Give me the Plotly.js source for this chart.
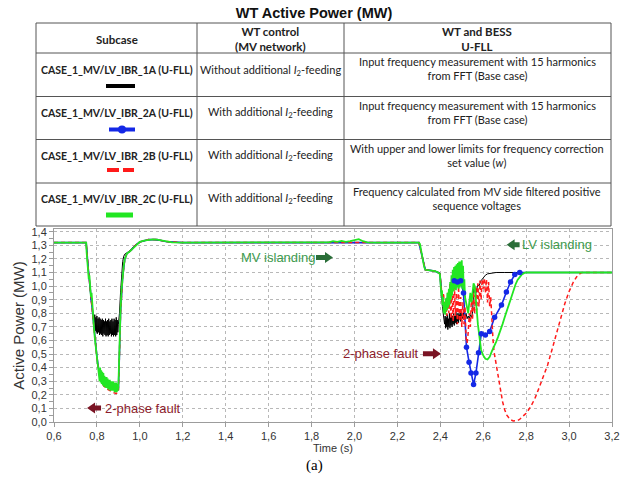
<!DOCTYPE html>
<html>
<head>
<meta charset="utf-8">
<script src="https://cdn.plot.ly/plotly-3.0.1.min.js"></script>
<style>
  html, body { margin: 0; padding: 0; background: #fff; }
  #chart { width: 628px; height: 486px; }
</style>
</head>
<body>
<div id="chart"></div>
<script>
// ---- Table content ----
const subcases = [
  'CASE_1_MV/LV_IBR_1A (U-FLL)',
  'CASE_1_MV/LV_IBR_2A (U-FLL)',
  'CASE_1_MV/LV_IBR_2B (U-FLL)',
  'CASE_1_MV/LV_IBR_2C (U-FLL)'
];
const wtControl = [
  'Without additional <i>I</i><sub>2</sub>-feeding',
  'With additional <i>I</i><sub>2</sub>-feeding',
  'With additional <i>I</i><sub>2</sub>-feeding',
  'With additional <i>I</i><sub>2</sub>-feeding'
];
const bessControl = [
  'Input frequency measurement with 15 harmonics<br>from FFT (Base case)',
  'Input frequency measurement with 15 harmonics<br>from FFT (Base case)',
  'With upper and lower limits for frequency correction<br>set value (<i>w</i>)',
  'Frequency calculated from MV side filtered positive<br>sequence voltages'
];
const headers = ['Subcase', 'WT control<br>(MV network)', 'WT and BESS<br>U-FLL'];

// ---- Active power time series [time (s), P (MW)] ----
const case1A = [
  [0.6,1.32],[0.75,1.32],[0.755,1.22],[0.76,1.12],[0.765,1.02],[0.77,0.93],[0.774,0.88],[0.776,0.91],[0.779,0.84],[0.782,0.80],
  [0.785,0.78],[0.7875,0.68],[0.79,0.79],[0.7925,0.67],[0.795,0.77],[0.7975,0.66],[0.8,0.78],[0.8025,0.65],[0.805,0.76],[0.8075,0.66],
  [0.81,0.77],[0.8125,0.64],[0.815,0.76],[0.8175,0.65],[0.82,0.75],[0.8225,0.64],[0.825,0.76],[0.8275,0.63],[0.83,0.75],[0.8325,0.65],
  [0.835,0.74],[0.8375,0.64],[0.84,0.76],[0.8425,0.63],[0.845,0.74],[0.8475,0.64],[0.85,0.75],[0.8525,0.63],[0.855,0.76],[0.8575,0.64],
  [0.86,0.74],[0.8625,0.65],[0.865,0.75],[0.8675,0.63],[0.87,0.76],[0.8725,0.64],[0.875,0.74],[0.8775,0.63],[0.88,0.76],[0.8825,0.64],
  [0.885,0.75],[0.8875,0.63],[0.89,0.77],[0.8925,0.64],[0.895,0.75],[0.8975,0.66],[0.9,0.72],
  [0.905,0.80],[0.91,0.95],[0.915,1.08],[0.92,1.18],[0.925,1.22],[0.93,1.235],[0.94,1.245],[0.95,1.255],[0.96,1.27],[0.97,1.29],
  [0.98,1.305],[0.99,1.315],[1.0,1.325],[1.02,1.335],[1.04,1.34],[1.06,1.342],[1.08,1.34],[1.1,1.335],[1.12,1.328],[1.15,1.322],[1.2,1.32],
  [2.3,1.32],[2.305,1.30],[2.315,1.22],[2.325,1.14],[2.33,1.12],[2.36,1.115],[2.375,1.11],[2.385,1.105],[2.395,1.10],[2.4,1.09],
  [2.405,0.95],[2.41,0.85],[2.415,0.78],
  [2.42,0.72],[2.4225,0.78],[2.425,0.69],[2.4275,0.77],[2.43,0.70],[2.4325,0.79],[2.435,0.68],[2.4375,0.76],[2.44,0.70],[2.4425,0.80],
  [2.445,0.69],[2.4475,0.77],[2.45,0.71],[2.4525,0.79],[2.455,0.70],[2.4575,0.78],[2.46,0.72],[2.4625,0.80],[2.465,0.71],[2.4675,0.78],
  [2.47,0.73],[2.4725,0.81],[2.475,0.72],[2.4775,0.79],[2.48,0.74],[2.4825,0.80],[2.485,0.73],[2.4875,0.79],[2.49,0.75],[2.4925,0.82],
  [2.495,0.74],[2.5,0.80],[2.505,0.76],[2.51,0.82],[2.515,0.77],[2.52,0.80],[2.525,0.76],[2.53,0.78],[2.535,0.76],[2.54,0.79],
  [2.545,0.77],[2.55,0.80],[2.553,0.92],[2.556,0.98],[2.56,0.96],[2.565,0.94],[2.57,0.98],[2.575,1.01],[2.58,1.0],[2.585,1.03],
  [2.59,1.04],[2.6,1.06],[2.61,1.08],[2.62,1.09],[2.64,1.095],[2.66,1.10],[2.7,1.10],[3.2,1.10]
];

const case2A = [
  [0.6,1.32],[0.75,1.32],[0.76,1.12],[0.77,0.95],[0.78,0.8],[0.79,0.62],[0.8,0.48],[0.81,0.37],[0.82,0.31],[0.84,0.27],
  [0.86,0.25],[0.88,0.24],[0.9,0.24],[0.905,0.5],[0.91,0.8],[0.92,1.07],[0.93,1.2],[0.94,1.24],[0.96,1.265],[0.98,1.3],
  [1.0,1.325],[1.04,1.342],[1.08,1.342],[1.12,1.328],[1.2,1.32],[2.3,1.32],[2.315,1.22],[2.33,1.12],[2.375,1.11],[2.398,1.09],
  [2.405,0.95],[2.415,0.85],[2.425,0.88],[2.435,0.92],[2.445,0.96],[2.455,1.0],[2.465,1.04],[2.48,1.03],[2.495,1.04],[2.508,0.95],
  [2.522,0.55],[2.534,0.44],[2.543,0.36],[2.555,0.275],[2.566,0.36],[2.578,0.51],[2.591,0.65],[2.61,0.64],[2.63,0.665],[2.653,0.77],
  [2.685,0.86],[2.708,0.956],[2.727,1.03],[2.747,1.085],[2.77,1.1],[3.2,1.1]
];

const case2B = [
  [0.6,1.32],[0.75,1.32],[0.76,1.12],[0.77,0.95],[0.78,0.82],[0.79,0.62],[0.8,0.47],[0.81,0.36],[0.82,0.30],[0.83,0.27],
  [0.84,0.25],[0.85,0.24],[0.86,0.23],[0.87,0.22],[0.88,0.215],[0.89,0.21],[0.9,0.22],[0.905,0.5],[0.91,0.8],[0.92,1.07],
  [0.93,1.2],[0.94,1.24],[0.96,1.265],[0.98,1.3],[1.0,1.325],[1.04,1.342],[1.08,1.342],[1.12,1.328],[1.2,1.32],[2.3,1.32],
  [2.315,1.22],[2.33,1.12],[2.375,1.11],[2.398,1.09],
  [2.405,0.98],[2.41,0.88],[2.415,0.95],[2.42,0.82],[2.425,0.90],[2.43,0.78],[2.435,0.95],[2.44,0.80],[2.445,1.02],[2.45,0.76],
  [2.455,0.98],[2.46,0.74],[2.465,1.04],[2.47,0.78],[2.475,0.95],[2.48,0.72],[2.485,1.0],[2.49,0.74],[2.495,0.92],[2.5,0.70],
  [2.505,0.88],[2.51,0.72],[2.515,0.85],[2.52,0.62],[2.525,0.58],[2.53,0.66],[2.535,0.80],[2.54,0.70],[2.545,0.92],[2.55,0.75],
  [2.555,0.96],[2.56,0.80],[2.565,1.0],[2.57,0.82],[2.575,1.02],[2.58,0.85],[2.585,1.04],[2.59,0.90],[2.595,1.05],[2.6,0.98],
  [2.605,1.06],[2.61,0.95],[2.615,1.05],[2.62,0.88],[2.625,1.03],[2.63,0.85],[2.635,0.92],[2.64,0.74],[2.645,0.62],[2.65,0.52],
  [2.66,0.43],[2.67,0.33],[2.68,0.23],[2.69,0.15],[2.7,0.09],[2.71,0.05],[2.72,0.03],[2.73,0.015],[2.74,0.008],[2.75,0.007],
  [2.76,0.01],[2.77,0.02],[2.78,0.035],[2.8,0.065],[2.82,0.11],[2.84,0.17],[2.86,0.25],[2.88,0.33],[2.9,0.42],[2.92,0.53],
  [2.94,0.64],[2.96,0.76],[2.98,0.87],[3.0,0.96],[3.02,1.03],[3.04,1.08],[3.06,1.1],[3.2,1.1]
];

const case2C = [
  [0.6,1.32],[0.75,1.32],[0.752,1.25],[0.756,1.15],[0.758,1.18],[0.762,1.05],[0.765,1.08],[0.768,0.98],[0.772,0.92],[0.775,0.95],
  [0.778,0.86],[0.782,0.78],[0.786,0.70],[0.79,0.62],[0.795,0.55],[0.8,0.48],[0.805,0.42],[0.81,0.38],
  [0.8125,0.30],[0.815,0.40],[0.8175,0.29],[0.82,0.38],[0.8225,0.28],[0.825,0.37],[0.8275,0.27],[0.83,0.36],[0.8325,0.26],[0.835,0.34],
  [0.8375,0.26],[0.84,0.33],[0.8425,0.25],[0.845,0.33],[0.8475,0.25],[0.85,0.32],[0.8525,0.24],[0.855,0.31],[0.8575,0.24],[0.86,0.31],
  [0.8625,0.23],[0.865,0.30],[0.8675,0.23],[0.87,0.30],[0.8725,0.23],[0.875,0.30],[0.8775,0.23],[0.88,0.29],[0.8825,0.22],[0.885,0.29],
  [0.8875,0.22],[0.89,0.29],[0.8925,0.22],[0.895,0.28],[0.8975,0.23],[0.9,0.26],
  [0.903,0.45],[0.906,0.65],[0.91,0.82],[0.915,0.98],[0.92,1.08],[0.925,1.15],[0.93,1.2],[0.935,1.23],[0.94,1.24],[0.95,1.25],
  [0.96,1.265],[0.97,1.28],[0.98,1.30],[0.99,1.315],[1.0,1.325],[1.02,1.335],[1.04,1.342],[1.06,1.344],[1.08,1.342],[1.1,1.336],
  [1.12,1.328],[1.15,1.322],[1.2,1.32],
  [1.85,1.32],[1.88,1.322],[1.9,1.33],[1.92,1.325],[1.94,1.332],[1.96,1.326],[1.98,1.33],[2.0,1.335],[2.02,1.345],[2.04,1.33],
  [2.06,1.322],[2.1,1.32],
  [2.3,1.32],[2.305,1.31],[2.315,1.22],[2.325,1.14],[2.33,1.12],[2.36,1.115],[2.375,1.11],[2.39,1.10],[2.398,1.09],
  [2.402,1.0],[2.405,0.93],[2.408,0.97],[2.41,0.86],[2.413,0.92],[2.416,0.80],[2.42,0.88],[2.423,0.79],[2.426,0.91],[2.43,0.82],
  [2.433,0.95],[2.436,0.84],[2.44,0.98],[2.443,0.86],[2.446,1.03],[2.449,0.90],[2.452,1.08],[2.455,0.93],[2.458,1.12],[2.461,0.96],
  [2.464,1.14],[2.467,0.98],[2.47,1.15],[2.473,0.97],[2.476,1.16],[2.479,0.99],[2.482,1.17],[2.485,0.98],[2.488,1.18],[2.491,0.99],
  [2.494,1.18],[2.497,1.0],[2.5,1.19],[2.503,0.98],[2.506,1.15],[2.509,0.95],[2.512,1.05],[2.515,0.92],[2.52,0.88],[2.525,0.82],
  [2.53,0.80],[2.535,0.88],[2.54,0.95],[2.545,0.88],[2.55,0.98],[2.555,1.02],[2.56,1.0],[2.565,0.93],[2.57,0.82],[2.575,0.72],
  [2.58,0.64],[2.585,0.58],[2.59,0.53],[2.6,0.49],[2.61,0.465],[2.62,0.46],[2.63,0.48],[2.64,0.52],[2.65,0.55],[2.66,0.59],
  [2.67,0.63],[2.68,0.67],[2.69,0.72],[2.7,0.77],[2.71,0.82],[2.72,0.87],[2.73,0.92],[2.74,0.97],[2.75,1.01],[2.76,1.045],
  [2.77,1.07],[2.78,1.085],[2.79,1.095],[2.8,1.1],[3.2,1.1]
];

// ---- Styling ----
const COL_1A = '#000000';
const COL_2A = '#1428e6';
const COL_2B = '#ff1a1a';
const COL_2C = '#22e622';
const GREEN_TXT = '#3d9a4d';
const GREEN_ARROW = '#2a6e38';
const RED_TXT = '#8c1c2c';
const RED_ARROW = '#7a1424';

const W = 628, H = 486;
const M = { l: 54, r: 16, t: 229, b: 64 };
const plotW = W - M.l - M.r, plotH = H - M.t - M.b;
// pixel -> paper coordinate helpers for the table drawn above the plot
const px = x => (x - M.l) / plotW;
const py = y => (H - M.b - y) / plotH;

const xs = s => s.map(d => d[0]);
const ys = s => s.map(d => d[1]);

// circle markers are shown along the recovery part of case 2A
const blueMarked = case2A.filter(d => d[0] >= 2.465 && d[0] <= 2.77);

const traces = [
  { x: xs(case1A), y: ys(case1A), mode: 'lines', line: { color: COL_1A, width: 1 }, name: subcases[0] },
  { x: xs(case2A), y: ys(case2A), mode: 'lines', line: { color: COL_2A, width: 1.6 }, name: subcases[1] },
  { x: xs(case2B), y: ys(case2B), mode: 'lines', line: { color: COL_2B, width: 1.5, dash: '4px,3px' }, name: subcases[2] },
  { x: xs(case2C), y: ys(case2C), mode: 'lines', line: { color: COL_2C, width: 1.8 }, name: subcases[3] },
  { x: xs(blueMarked), y: ys(blueMarked), mode: 'markers', marker: { color: COL_2A, size: 5.5 }, name: subcases[1] }
];

// ---- Table grid ----
const tblX = [36, 197, 344, 611];
const tblY = [23, 53, 96.5, 139.5, 183, 226];
const shapes = [];
tblY.forEach(y => shapes.push({ type: 'line', xref: 'paper', yref: 'paper',
  x0: px(tblX[0]), x1: px(tblX[3]), y0: py(y), y1: py(y), line: { color: '#555', width: 1 } }));
tblX.forEach(x => shapes.push({ type: 'line', xref: 'paper', yref: 'paper',
  x0: px(x), x1: px(x), y0: py(tblY[0]), y1: py(tblY[5]), line: { color: '#555', width: 1 } }));

// legend swatches inside the subcase column
const sw = (x0, x1, y, color, width) => ({ type: 'line', xref: 'paper', yref: 'paper',
  x0: px(x0), x1: px(x1), y0: py(y), y1: py(y), line: { color: color, width: width } });
shapes.push(sw(106, 135, 86, COL_1A, 4));
shapes.push(sw(109, 135, 129.5, COL_2A, 4));
shapes.push({ type: 'circle', xref: 'paper', yref: 'paper', x0: px(118), x1: px(126), y0: py(125.5), y1: py(133.5),
  fillcolor: COL_2A, line: { color: COL_2A, width: 0 } });
shapes.push(sw(107, 119, 170, COL_2B, 4));
shapes.push(sw(123, 134, 170, COL_2B, 4));
shapes.push(sw(106, 133, 215, COL_2C, 5));

// block arrows anchored at a data point, drawn in pixel units (tip at the anchor)
const blockArrow = (x, y, len, dir, color) => {
  const s = dir; // +1 points right, -1 points left
  const h = 8;
  const p = [[-len, -2.5], [-h, -2.5], [-h, -5.5], [0, 0], [-h, 5.5], [-h, 2.5], [-len, 2.5]]
    .map(([a, b]) => (s * a) + ',' + b);
  shapes.push({ type: 'path', xref: 'x', yref: 'y', xsizemode: 'pixel', ysizemode: 'pixel',
    xanchor: x, yanchor: y, path: 'M' + p.join(' L') + ' Z',
    fillcolor: color, line: { color: color, width: 0 } });
};

// ---- Table text ----
const TF = 'Lato, "Open Sans", sans-serif';
const annotations = [];
const cell = (x, y, text, size, bold) => annotations.push({
  xref: 'paper', yref: 'paper', x: px(x), y: py(y), xanchor: 'center', yanchor: 'middle',
  text: bold ? '<b>' + text + '</b>' : text, showarrow: false,
  font: { family: TF, size: size, color: '#222' }
});
cell(116.5, 39.5, headers[0], 11.5, true);
cell(270.5, 38.5, headers[1], 11.5, true);
cell(477, 39, headers[2], 11.5, true);
const rowTextY = [70, 112.5, 155.5, 199];
const rowRightY = [68.5, 112, 155.5, 198.7];
subcases.forEach((s, i) => cell(117, rowTextY[i], s, 10.5, true));
wtControl.forEach((s, i) => cell(270.5, rowTextY[i], s, 11, false));
bessControl.forEach((s, i) => cell(477, rowRightY[i], s, 11, false));

// ---- Event labels on the plot ----
const EF = '"Liberation Sans", Arial, sans-serif';
const label = (x, y, text, color) => annotations.push({
  xref: 'x', yref: 'y', x: x, y: y, xanchor: 'left', yanchor: 'middle', text: text,
  showarrow: false, font: { family: EF, size: 13, color: color }
});
label(1.463, 1.21, 'MV islanding', GREEN_TXT);
blockArrow(1.9, 1.21, 17, 1, GREEN_ARROW);
label(2.771, 1.304, 'LV islanding', GREEN_TXT);
blockArrow(2.709, 1.304, 13, -1, GREEN_ARROW);
label(1.936, 0.503, '2-phase fault', RED_TXT);
blockArrow(2.403, 0.503, 18, 1, RED_ARROW);
label(0.827, 0.103, '2-phase fault', RED_TXT);
blockArrow(0.754, 0.103, 14, -1, RED_ARROW);

// sub-figure tag
annotations.push({ xref: 'paper', yref: 'paper', x: px(314), y: py(465), xanchor: 'center', yanchor: 'middle',
  text: '(a)', showarrow: false, font: { family: '"Liberation Serif", "Times New Roman", serif', size: 15, color: '#000' } });

const axisCommon = {
  showgrid: true, gridcolor: '#b8b8b8', griddash: 'dot', gridwidth: 1,
  showline: true, linecolor: '#9c9c9c', linewidth: 1, mirror: true,
  ticks: 'outside', ticklen: 4, tickcolor: '#9c9c9c',
  zeroline: false, tickformat: '.1f',
  tickfont: { family: EF, size: 11, color: '#333' }
};

const layout = {
  width: W, height: H, margin: M,
  paper_bgcolor: '#fff', plot_bgcolor: '#fff',
  separators: ',.',
  showlegend: false,
  font: { family: EF, size: 11, color: '#333' },
  title: { text: '<b>WT Active Power (MW)</b>', xref: 'container', yref: 'container',
    x: 0.5, xanchor: 'center', y: 1 - 12.5 / H, yanchor: 'middle',
    font: { family: EF, size: 14.5, color: '#111' } },
  xaxis: Object.assign({}, axisCommon, {
    range: [0.6, 3.2], tick0: 0.6, dtick: 0.2,
    title: { text: 'Time (s)', standoff: 0, font: { family: EF, size: 11, color: '#333' } }
  }),
  yaxis: Object.assign({}, axisCommon, {
    range: [0, 1.42], tick0: 0, dtick: 0.1,
    minor: { dtick: 0.05, ticks: 'outside', ticklen: 4, tickcolor: '#9c9c9c', showgrid: false },
    title: { text: 'Active Power (MW)', standoff: 3, font: { family: EF, size: 15, color: '#333' } }
  }),
  shapes: shapes,
  annotations: annotations
};

Plotly.newPlot('chart', traces, layout, { staticPlot: true, displayModeBar: false });
</script>
</body>
</html>
